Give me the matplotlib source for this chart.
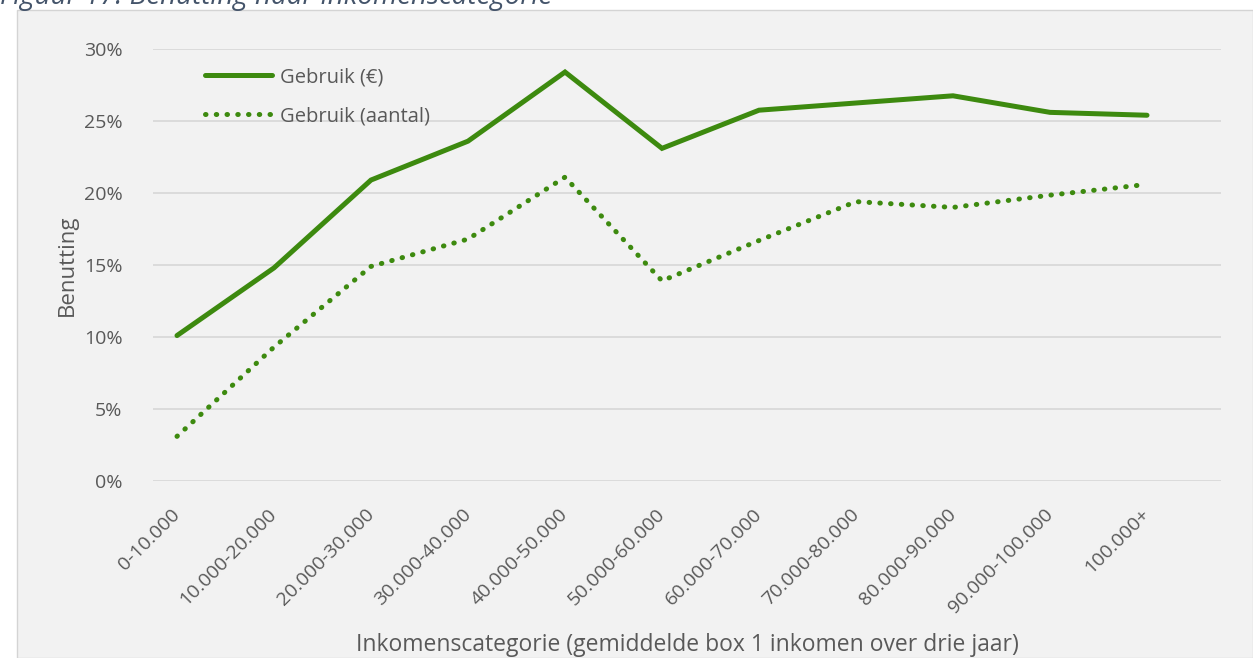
import matplotlib.pyplot as plt
from matplotlib.patches import Rectangle
from matplotlib.ticker import FuncFormatter

categories = ['0-10.000', '10.000-20.000', '20.000-30.000', '30.000-40.000',
              '40.000-50.000', '50.000-60.000', '60.000-70.000', '70.000-80.000',
              '80.000-90.000', '90.000-100.000', '100.000+']
gebruik_euro = [10.1, 14.8, 20.9, 23.6, 28.4, 23.1, 25.75, 26.25, 26.75, 25.6, 25.4]
gebruik_aantal = [3.1, 9.3, 14.9, 16.8, 21.1, 13.9, 16.7, 19.4, 19.0, 19.85, 20.6]

green = '#3d8a0f'
grey_txt = '#595959'
plt.rcParams['font.family'] = ['Open Sans', 'DejaVu Sans']

fig = plt.figure(figsize=(12.53, 6.58), dpi=100)
fig.patch.set_facecolor('white')
# grey chart area with thin border
fig.patches.append(Rectangle((17 / 1253, 0), 1 - 17 / 1253, 1 - 10 / 658,
                             transform=fig.transFigure, facecolor='#f2f2f2',
                             edgecolor='#d4d4d4', linewidth=1, zorder=-5))

fig.text(0.0, 1 - 4 / 658, 'Figuur 17: Benutting naar inkomenscategorie',
         fontsize=20, style='italic', color='#44546a', va='baseline', ha='left')

ax = fig.add_axes([153 / 1253, 1 - 481 / 658, 1068 / 1253, 432 / 658])
ax.set_facecolor('none')
x = list(range(len(categories)))
ax.plot(x, gebruik_euro, color=green, lw=3.6, solid_capstyle='round',
        solid_joinstyle='miter', label='Gebruik (€)')
ax.plot(x, gebruik_aantal, color=green, lw=3.6, linestyle=(0, (0.1, 2.05)),
        dash_capstyle='round', label='Gebruik (aantal)')

ax.set_xlim(-24 / 97, 10 + 74 / 97)
ax.set_ylim(0, 30)
ax.set_yticks([0, 5, 10, 15, 20, 25, 30])
ax.yaxis.set_major_formatter(FuncFormatter(lambda v, p: f'{v:.0f}%'))
ax.grid(axis='y', color='#d9d9d9', lw=1.3)
ax.set_axisbelow(True)
for s in ax.spines.values():
    s.set_visible(False)
ax.tick_params(axis='both', length=0, colors=grey_txt)
ax.tick_params(axis='y', pad=22, labelsize=14)
ax.set_xticks(x)
ax.set_xticklabels(categories, rotation=45, ha='right', va='center',
                   rotation_mode='anchor')
ax.tick_params(axis='x', pad=22, labelsize=14)

ax.set_ylabel('Benutting', fontsize=16, color=grey_txt, labelpad=4)
ax.set_xlabel('Inkomenscategorie (gemiddelde box 1 inkomen over drie jaar)',
              fontsize=16.5, color=grey_txt, labelpad=12)

ax.legend(loc='upper left', bbox_to_anchor=(0.032, 1.0), frameon=False,
          fontsize=14.5, labelcolor=grey_txt, handlelength=3.3,
          handletextpad=0.4, labelspacing=0.95)

fig.savefig('out.png', dpi=100)
